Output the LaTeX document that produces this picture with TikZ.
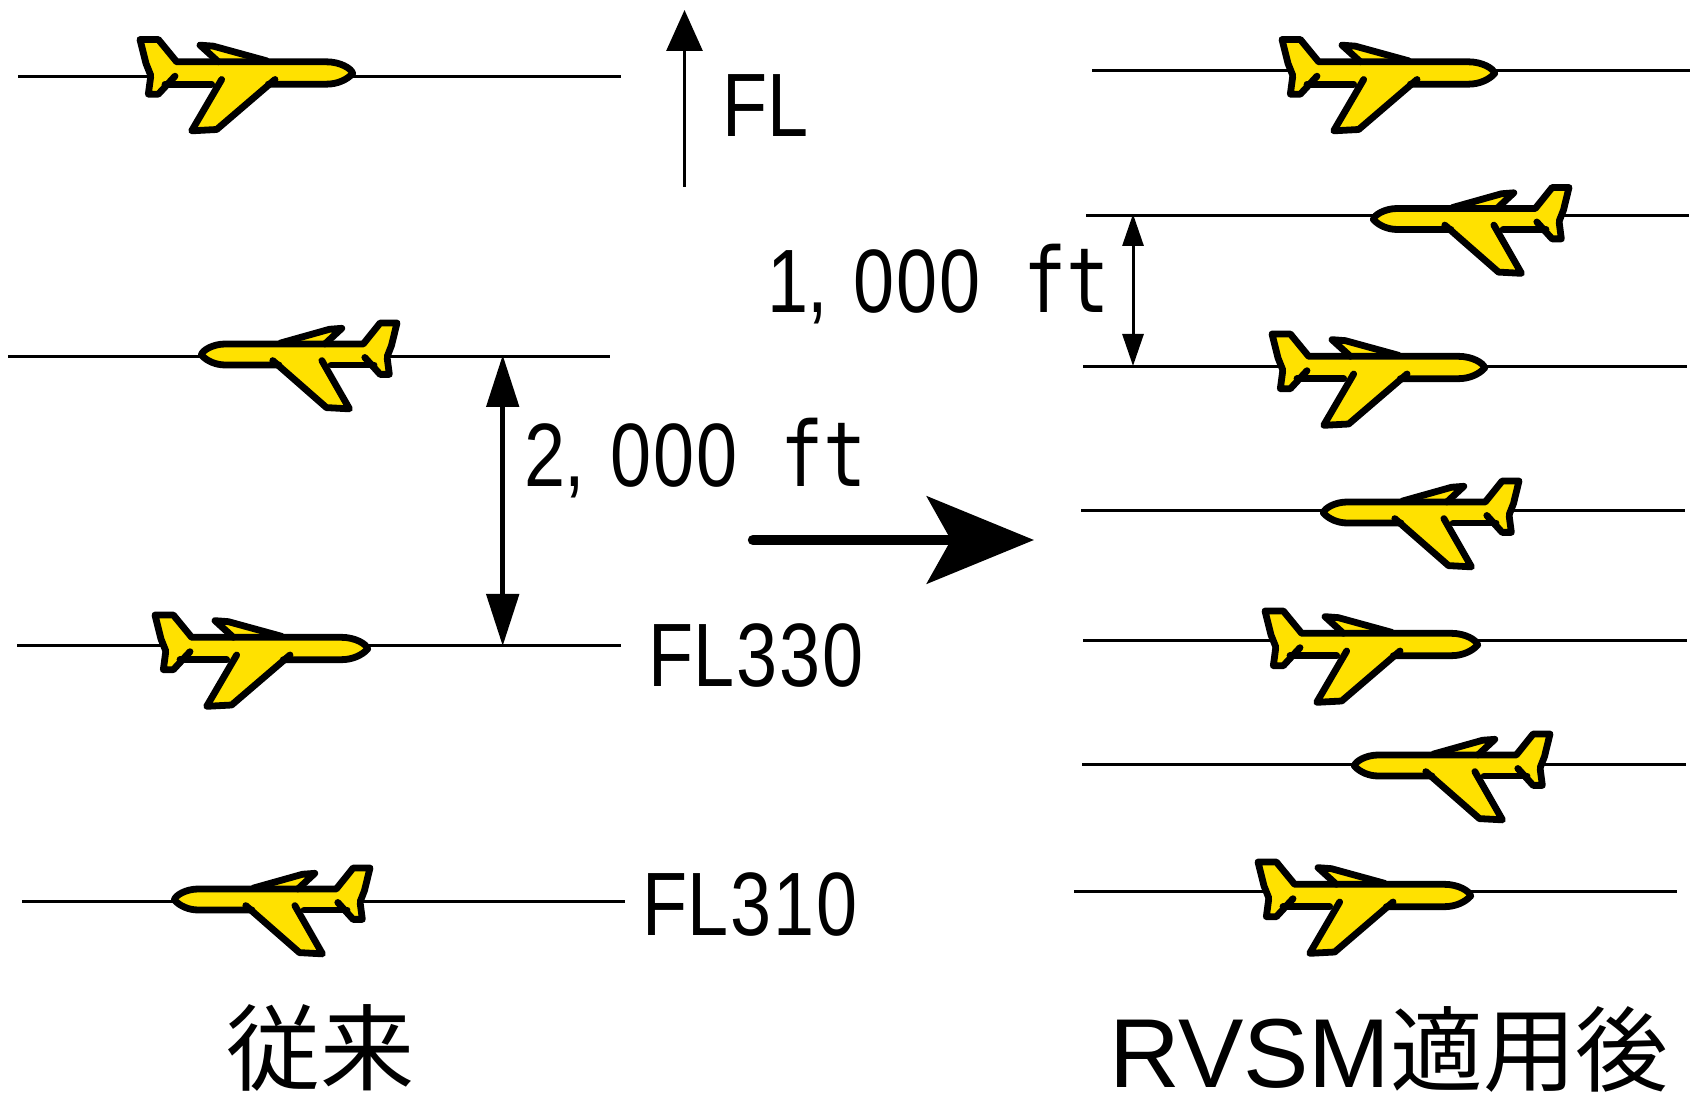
\documentclass[tikz,border=0pt]{standalone}
\usepackage{fontspec}
\usetikzlibrary{arrows.meta}
\setmainfont{Liberation Sans}
\newfontfamily\narrowfont[FakeStretch=0.82]{Liberation Sans}
\newfontfamily\widefont[FakeStretch=0.8]{DejaVu Sans Mono}
\newfontfamily\cjkfont{Noto Sans CJK JP}
\definecolor{planeyellow}{RGB}{255,225,0}
\newcommand{\cellc}[1]{\makebox[21.4pt]{#1}}
\newcommand{\cellw}[1]{\makebox[21.4pt]{\widefont #1}}
\newcommand{\cellk}{\makebox[21.4pt]{\hspace*{-13pt},}}
\newcommand{\lab}[1]{\fontsize{45pt}{50pt}\narrowfont #1}
\tikzset{
  flightlevel/.style={line width=1.5pt},
  planeline/.style={line width=3.4pt,line cap=round,line join=round},
  labelnode/.style={anchor=base west,inner sep=0pt,outer sep=0pt},
  planeright/.pic={
    \begin{scope}[x=0.16667pt,y=-0.16667pt,shift={(-60,-58)}]
      \fill[planeyellow] (60,58)--(115,58)--(170,125)--(290,125)--(240,75)--(280,78)--(440,122)--(620,125)
        .. controls (660,125) and (695,145) .. (698,160) .. controls (680,180) and (650,192) .. (620,192)
        --(445,192)--(290,328)--(215,332)--(305,192)--(130,192)--(115,222)--(85,222)--(90,170)--(80,150)--cycle;
      \draw[planeline] (165,168)--(115,222)--(85,222)--(92,170);
      \draw[planeline] (92,165)--(78,130)--(60,58)--(115,58)--(170,125)--(620,125)
        .. controls (660,125) and (695,145) .. (698,160) .. controls (680,180) and (650,192) .. (620,192)--(445,192);
      \draw[planeline] (295,125)--(240,75)--(280,78)--(440,122);
      \draw[planeline] (465,178)--(290,328)--(215,332)--(305,178);
      \draw[planeline] (275,192)--(135,192);
    \end{scope}
  }
}
\begin{document}
\begin{tikzpicture}[x=0.5pt,y=-0.5pt]
\useasboundingbox (0,0) rectangle (1690,1095);
% flight levels
\coordinate (a1) at (18,76.5);   \coordinate (b1) at (621,76.5);
\coordinate (a2) at (8,357);     \coordinate (b2) at (610,357);
\coordinate (a3) at (17,645.5);  \coordinate (b3) at (621,645.5);
\coordinate (a4) at (22,901);    \coordinate (b4) at (625,901);
\coordinate (c1) at (1092,70.5); \coordinate (d1) at (1690,70.5);
\coordinate (c2) at (1086,215.5);\coordinate (d2) at (1689,215.5);
\coordinate (c3) at (1083,366.5);\coordinate (d3) at (1687,366.5);
\coordinate (c4) at (1081,510.5);\coordinate (d4) at (1685,510.5);
\coordinate (c5) at (1083,640);  \coordinate (d5) at (1687,640);
\coordinate (c6) at (1082,764);  \coordinate (d6) at (1686,764);
\coordinate (c7) at (1074,891);  \coordinate (d7) at (1677,891);
\foreach \i in {1,2,3,4} \draw[flightlevel] (a\i) -- (b\i);
\foreach \i in {1,...,7} \draw[flightlevel] (c\i) -- (d\i);
% planes
\pic at (140,39.5) {planeright};
\pic at (155,615) {planeright};
\pic at (1282,39.5) {planeright};
\pic at (1272,334) {planeright};
\pic at (1265,611) {planeright};
\pic at (1258,862) {planeright};
\pic[xscale=-0.92,yscale=0.94] at (397,323) {planeright};
\pic[xscale=-0.92,yscale=0.94] at (370,868) {planeright};
\pic[xscale=-0.92,yscale=0.94] at (1569,187.5) {planeright};
\pic[xscale=-0.92,yscale=0.94] at (1519,481) {planeright};
\pic[xscale=-0.92,yscale=0.94] at (1550,734) {planeright};
% arrows
\coordinate (flfoot) at (684.5,187); \coordinate (fltip) at (684.5,10);
\draw[line width=1.5pt,-{Triangle[length=20.5pt,width=18pt]}] (flfoot) -- (fltip);
\coordinate (twotop) at (502.7,355); \coordinate (twobot) at (502.7,646);
\draw[line width=2.6pt,{Triangle[length=26pt,width=16pt]}-{Triangle[length=26pt,width=16pt]}] (twotop) -- (twobot);
\coordinate (onetop) at (1133,214); \coordinate (onebot) at (1133,366);
\draw[line width=1.5pt,{Triangle[length=16pt,width=10.5pt]}-{Triangle[length=16pt,width=10.5pt]}] (onetop) -- (onebot);
\coordinate (bigtail) at (753,540); \coordinate (bigtip) at (1034,540);
\draw[line width=5.2pt,line cap=round,-{Stealth[length=53.5pt,width=43.5pt,inset=12pt]}] (bigtail) -- (bigtip);
% labels
\node[labelnode] (flaxis) at (724,137) {\lab{\cellc{F}\cellc{L}}};
\node[labelnode] (fl330) at (650,686) {\lab{\cellc{F}\cellc{L}\cellc{3}\cellc{3}\cellc{0}}};
\node[labelnode] (fl310) at (644,935) {\lab{\cellc{F}\cellc{L}\cellc{3}\cellc{1}\cellc{0}}};
\node[labelnode] (twok) at (524,487) {\lab{\cellc{2}\cellk\cellc{0}\cellc{0}\cellc{0}\cellc{}\cellw{f}\cellw{t}}};
\node[labelnode] (onek) at (767,313) {\lab{\cellc{1}\cellk\cellc{0}\cellc{0}\cellc{0}\cellc{}\cellw{f}\cellw{t}}};
\node[anchor=base,inner sep=0pt] (before) at (320,1083) {\fontsize{47pt}{50pt}\cjkfont 従来};
\node[labelnode] (after) at (1109,1087) {\fontsize{49pt}{55pt}\selectfont RVSM\raisebox{1.5pt}[\height][0pt]{\fontsize{46.4pt}{50pt}\cjkfont 適用後}};
\end{tikzpicture}
\end{document}
